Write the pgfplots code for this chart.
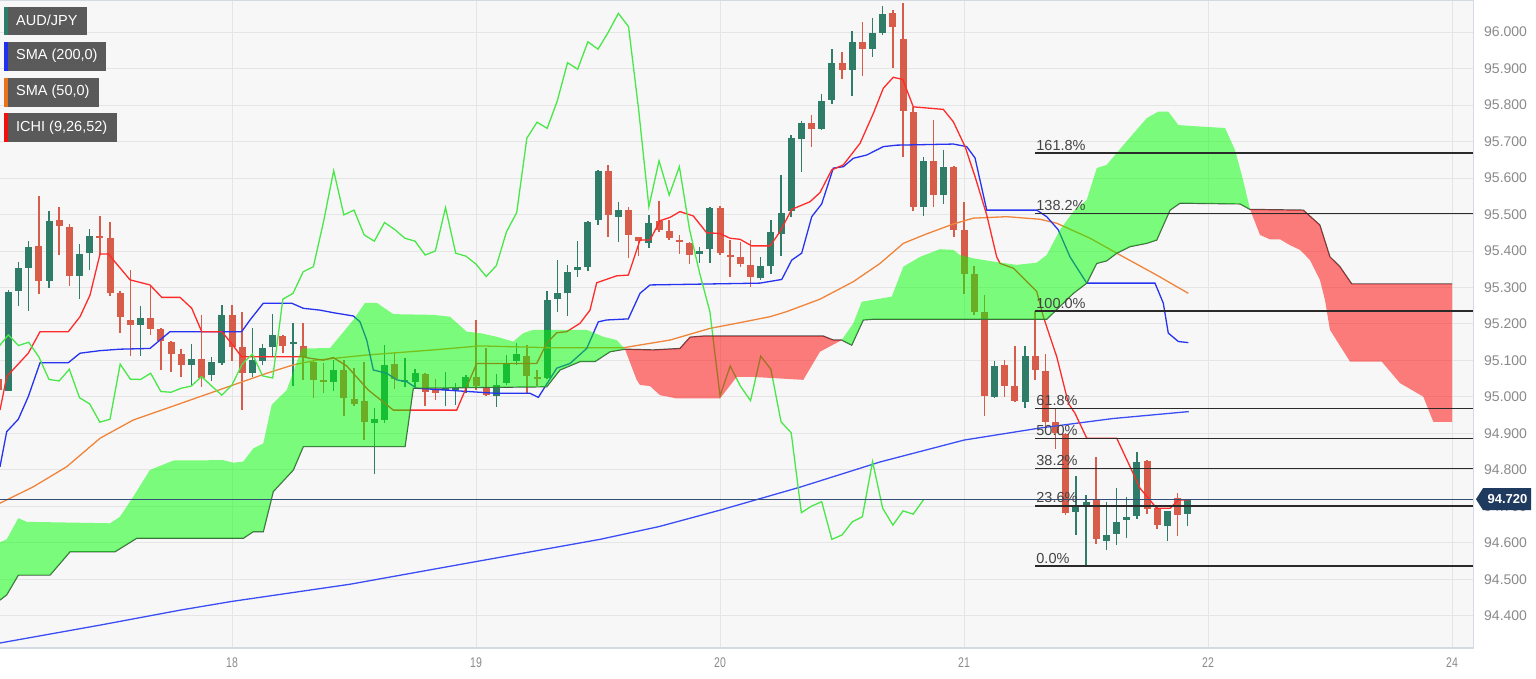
\documentclass[border=0pt]{standalone}
\usepackage{fontspec}
\setmainfont{Liberation Sans}
\usepackage{pgfplots}
\pgfplotsset{compat=1.18}
\usepackage{pgfplotstable}

\definecolor{bgc}{HTML}{F7F7F7}
\definecolor{gridc}{HTML}{E5E5E5}
\definecolor{upc}{HTML}{2F7D68}
\definecolor{dnc}{HTML}{D85C4A}
\definecolor{tenkan}{HTML}{FF2A2A}
\definecolor{kijun}{HTML}{2633F0}
\definecolor{smaA}{HTML}{3B4EF5}
\definecolor{smaB}{HTML}{F0843A}
\definecolor{chikou}{HTML}{48E848}
\definecolor{spanb}{HTML}{505050}
\definecolor{fibc}{HTML}{2A2A2A}
\definecolor{fibt}{HTML}{444444}
\definecolor{pricec}{HTML}{34507A}
\definecolor{tagc}{HTML}{1F3A5F}
\definecolor{axc}{HTML}{D3DAE4}
\definecolor{lblc}{HTML}{8A8A8A}
\definecolor{legc}{HTML}{5A5A5A}
\definecolor{legteal}{HTML}{2E7D6B}
\definecolor{legblue}{HTML}{2030F0}
\definecolor{legorange}{HTML}{E8731A}
\definecolor{legred}{HTML}{F01010}

% hour index (0 = day 18, 00:00), open, high, low, close
\pgfplotstableread{
h o hi lo c
-23 95.050 95.080 94.990 95.020
-22 95.017 95.295 95.017 95.290
-21 95.291 95.371 95.249 95.353
-20 95.354 95.427 95.236 95.412
-19 95.414 95.551 95.284 95.318
-18 95.318 95.510 95.301 95.483
-17 95.485 95.521 95.389 95.468
-16 95.465 95.476 95.304 95.332
-15 95.332 95.419 95.268 95.392
-14 95.395 95.462 95.348 95.441
-13 95.441 95.496 95.389 95.435
-12 95.437 95.480 95.279 95.287
-11 95.286 95.290 95.175 95.220
-10 95.211 95.348 95.113 95.199
-9 95.197 95.249 95.113 95.217
-8 95.218 95.304 95.170 95.187
-7 95.187 95.190 95.074 95.156
-6 95.152 95.155 95.069 95.118
-5 95.118 95.131 95.056 95.090
-4 95.090 95.145 95.033 95.104
-3 95.106 95.225 95.030 95.054
-2 95.060 95.110 95.044 95.096
-1 95.094 95.254 95.090 95.225
0 95.225 95.252 95.100 95.138
1 95.138 95.234 94.966 95.067
2 95.067 95.188 95.056 95.101
3 95.101 95.147 95.088 95.136
4 95.138 95.229 95.110 95.170
5 95.167 95.170 95.120 95.141
6 95.146 95.204 95.033 95.150
7 95.142 95.204 95.047 95.110
8 95.097 95.100 94.997 95.048
9 95.049 95.094 95.010 95.044
10 95.042 95.101 95.017 95.076
11 95.076 95.101 94.948 94.998
12 94.996 95.081 94.975 94.981
13 94.990 95.097 94.882 94.931
14 94.928 94.973 94.791 94.939
15 94.939 95.142 94.928 95.090
16 95.092 95.124 95.024 95.049
17 95.045 95.106 95.028 95.048
18 95.042 95.079 95.030 95.065
19 95.063 95.066 94.975 95.015
20 95.019 95.051 94.992 95.013
21 95.019 95.069 94.975 95.024
22 95.021 95.040 94.980 95.030
23 95.024 95.060 95.010 95.056
24 95.056 95.211 95.019 95.030
25 95.028 95.134 95.003 95.005
26 95.005 95.065 94.973 95.033
27 95.038 95.115 95.033 95.090
28 95.100 95.149 95.088 95.118
29 95.115 95.142 95.010 95.058
30 95.056 95.074 95.030 95.052
31 95.054 95.291 95.051 95.268
32 95.268 95.377 95.234 95.284
33 95.286 95.362 95.223 95.343
34 95.350 95.427 95.330 95.357
35 95.357 95.482 95.345 95.480
36 95.485 95.622 95.471 95.620
37 95.619 95.638 95.441 95.499
38 95.494 95.535 95.427 95.512
39 95.512 95.521 95.383 95.444
40 95.438 95.440 95.389 95.427
41 95.423 95.499 95.407 95.478
42 95.482 95.538 95.453 95.459
43 95.456 95.485 95.430 95.435
44 95.432 95.444 95.394 95.427
45 95.423 95.425 95.366 95.389
46 95.394 95.412 95.368 95.400
47 95.405 95.522 95.368 95.519
48 95.519 95.523 95.389 95.394
49 95.389 95.430 95.330 95.386
50 95.384 95.426 95.357 95.364
51 95.362 95.430 95.302 95.330
52 95.328 95.384 95.321 95.360
53 95.360 95.485 95.337 95.453
54 95.448 95.608 95.386 95.505
55 95.508 95.718 95.494 95.709
56 95.709 95.757 95.617 95.753
57 95.751 95.773 95.686 95.736
58 95.736 95.832 95.732 95.812
59 95.814 95.955 95.805 95.916
60 95.917 95.946 95.870 95.898
61 95.896 96.005 95.825 95.973
62 95.973 96.028 95.879 95.953
63 95.955 96.040 95.932 95.999
64 95.999 96.071 95.992 96.051
65 96.051 96.060 95.901 96.015
66 95.983 96.080 95.658 95.786
67 95.782 95.795 95.510 95.521
68 95.521 95.658 95.496 95.647
69 95.647 95.759 95.521 95.553
70 95.553 95.679 95.531 95.631
71 95.631 95.633 95.439 95.459
72 95.459 95.535 95.284 95.339
73 95.339 95.360 95.225 95.234
74 95.234 95.279 94.947 95.003
75 95.001 95.099 94.998 95.085
76 95.087 95.101 95.001 95.030
77 95.033 95.140 94.987 94.990
78 94.987 95.142 94.972 95.112
79 95.112 95.236 95.047 95.076
80 95.072 95.118 94.902 94.932
81 94.932 94.969 94.857 94.902
82 94.900 94.902 94.677 94.683
83 94.686 94.784 94.622 94.701
84 94.704 94.732 94.537 94.713
85 94.718 94.836 94.597 94.610
86 94.606 94.713 94.581 94.622
87 94.625 94.752 94.597 94.658
88 94.663 94.727 94.616 94.672
89 94.675 94.850 94.667 94.823
90 94.826 94.827 94.679 94.695
91 94.695 94.699 94.640 94.649
92 94.649 94.688 94.606 94.688
93 94.725 94.738 94.620 94.679
94 94.679 94.722 94.647 94.718
}\candles

\pgfplotsset{
  candle/.style 2 args={forget plot, draw=none, mark=none,
    error bars/.cd, y dir=both, y explicit, error mark=none,
    error bar style={line width=#2, draw=#1, solid}},
}

\begin{document}
\begin{tikzpicture}
\useasboundingbox (0pt,0pt) rectangle (1536pt,678pt);
\fill[white] (0pt,0pt) rectangle (1536pt,678pt);
\begin{axis}[
  at={(0pt,30pt)}, anchor=south west,
  scale only axis, width=1473pt, height=648pt,
  xmin=-22.82, xmax=122.06, ymin=94.3123, ymax=96.0877,
  axis background/.style={fill=bgc},
  axis line style={draw=none},
  major tick length=0pt,
  xtick={0,24,48,72,96,120},
  xticklabels={18,19,20,21,22,24},
  ytick={94.4,94.5,94.6,94.7,94.8,94.9,95.0,95.1,95.2,95.3,95.4,95.5,95.6,95.7,95.8,95.9,96.0},
  yticklabels={94.400,94.500,94.600,94.700,94.800,94.900,95.000,95.100,95.200,95.300,95.400,95.500,95.600,95.700,95.800,95.900,96.000},
  yticklabel pos=right,
  grid=major,
  major grid style={draw=gridc, line width=1pt},
  xticklabel style={font=\fontsize{14}{14}\selectfont, text=lblc, xscale=0.75, anchor=north, inner sep=0pt, yshift=-10pt},
  yticklabel style={font=\fontsize{14}{14}\selectfont, text=lblc, anchor=west, inner sep=0pt, xshift=11pt},
]
% ---- candles: wicks
\addplot[restrict expr to domain={\thisrow{c}-\thisrow{o}}{0:1}, candle={upc}{1.5pt}]
  table[x=h, y expr={(\thisrow{hi}+\thisrow{lo})/2}, y error expr={(\thisrow{hi}-\thisrow{lo})/2}] {\candles};
\addplot[restrict expr to domain={\thisrow{c}-\thisrow{o}}{-1:0}, candle={dnc}{1.5pt}]
  table[x=h, y expr={(\thisrow{hi}+\thisrow{lo})/2}, y error expr={(\thisrow{hi}-\thisrow{lo})/2}] {\candles};
% ---- candles: bodies
\addplot[restrict expr to domain={\thisrow{c}-\thisrow{o}}{0:1}, candle={upc}{7pt}]
  table[x=h, y expr={(\thisrow{o}+\thisrow{c})/2}, y error expr={max(abs(\thisrow{c}-\thisrow{o})/2,0.0018)}] {\candles};
\addplot[restrict expr to domain={\thisrow{c}-\thisrow{o}}{-1:0}, candle={dnc}{7pt}]
  table[x=h, y expr={(\thisrow{o}+\thisrow{c})/2}, y error expr={max(abs(\thisrow{c}-\thisrow{o})/2,0.0018)}] {\candles};

% ---- SMA 200
\addplot[smaA, line width=1.3pt, forget plot] coordinates {
(-22.82,94.326) (-12.98,94.375) (-5.11,94.416) (0,94.440) (11.61,94.487) (24.39,94.551) (36.2,94.610) (42,94.645) (48.0,94.690) (55.87,94.753) (63.74,94.822) (72.0,94.882) (79.47,94.915) (86.65,94.941) (94.1,94.960)};
% ---- SMA 50
\addplot[smaB, line width=1.3pt, forget plot] coordinates {
(-22.82,94.709) (-19.54,94.754) (-16.26,94.809) (-12.98,94.887) (-9.71,94.937) (-6.42,94.969) (-3.15,95.001) (0.13,95.033) (3.41,95.065) (6.03,95.088) (8.33,95.101) (13.25,95.115) (19.8,95.129) (24.39,95.140) (31.28,95.135) (38.49,95.135) (43.08,95.156) (47.01,95.188) (49.64,95.202) (52.92,95.220) (54.56,95.234) (57.83,95.268) (61.11,95.316) (63.74,95.366) (66.03,95.421) (68.33,95.447) (70.95,95.474) (72.91,95.490) (76.2,95.494) (79.47,95.487) (81.12,95.476) (84.39,95.435) (87.67,95.384) (90.95,95.334) (94.06,95.284)};
% ---- Kijun
\addplot[kijun, line width=1.3pt, forget plot] coordinates {
(-22.82,94.809) (-22.16,94.905) (-21.02,94.939) (-20.04,95.001) (-18.88,95.094) (-16.1,95.094) (-14.95,95.120) (-12.98,95.127) (-11.02,95.131) (-8.07,95.133) (-6.1,95.179) (0.95,95.179) (1.77,95.211) (3.08,95.257) (5.87,95.257) (7.01,95.243) (8.66,95.238) (9.96,95.231) (11.93,95.222) (12.59,95.206) (13.25,95.156) (13.9,95.074) (15.22,95.065) (16.2,95.047) (17.18,95.042) (18.17,95.024) (26.03,95.010) (29.31,95.010) (30.13,94.999) (31.94,95.079) (33.25,95.092) (34.89,95.133) (36.03,95.206) (36.85,95.211) (38.98,95.214) (40.13,95.284) (41.11,95.307) (51.93,95.312) (54.07,95.322) (55.05,95.375) (56.03,95.394) (57.02,95.494) (58.0,95.529) (59.14,95.627) (60.13,95.631) (61.11,95.654) (62.43,95.663) (64.06,95.686) (65.38,95.690) (70.95,95.693) (72.26,95.686) (73.08,95.655) (74.23,95.512) (79.15,95.512) (80.13,95.494) (81.27,95.458) (82.42,95.384) (84.07,95.312) (90.78,95.312) (91.6,95.257) (92.09,95.175) (93.08,95.152) (94.06,95.149)};
% ---- Tenkan
\addplot[tenkan, line width=1.3pt, forget plot] coordinates {
(-22.82,94.964) (-22.16,95.056) (-20.04,95.120) (-18.88,95.179) (-16.1,95.179) (-14.95,95.220) (-13.97,95.279) (-12.98,95.392) (-12.17,95.392) (-10.03,95.321) (-8.07,95.307) (-6.91,95.273) (-5.11,95.273) (-3.96,95.243) (-2.98,95.179) (-1.01,95.179) (-0.2,95.152) (0.95,95.110) (7.01,95.110) (7.67,95.106) (8.98,95.101) (9.96,95.108) (11.28,95.085) (13.41,95.019) (15.87,94.964) (22.1,94.964) (23.08,95.028) (24.07,95.092) (29.97,95.092) (30.95,95.147) (31.94,95.176) (32.92,95.179) (34.23,95.202) (35.21,95.238) (35.87,95.313) (37.84,95.332) (38.98,95.334) (40.13,95.430) (41.11,95.430) (42.1,95.483) (43.08,95.492) (44.06,95.508) (45.37,95.496) (46.69,95.450) (48.0,95.448) (48.98,95.435) (49.97,95.432) (51.12,95.414) (52.92,95.414) (53.9,95.453) (55.05,95.514) (56.85,95.535) (57.83,95.560) (58.98,95.622) (60.13,95.636) (61.77,95.695) (63.08,95.777) (64.06,95.846) (65.04,95.876) (65.97,95.870) (67.01,95.795) (69.96,95.788) (70.95,95.754) (72.1,95.686) (73.08,95.604) (74.23,95.499) (75.21,95.384) (75.54,95.366) (76.85,95.353) (78.0,95.321) (79.15,95.289) (79.8,95.220) (81.12,95.110) (82.26,94.983) (82.92,94.955) (84.07,94.887) (87.02,94.887) (88.33,94.809) (89.31,94.750) (90.95,94.695) (92.26,94.695) (93.08,94.718) (94.1,94.718)};
% ---- Chikou (close plotted 26 periods back)
\addplot[chikou, line width=1.3pt, forget plot] table[x expr=\thisrow{h}-26, y=c] {\candles};

% ---- Senkou span B line
\addplot[spanb, line width=1.2pt, forget plot] coordinates {
(-23,94.440) (-22.16,94.458) (-21.02,94.512) (-17.9,94.512) (-15.93,94.576) (-11.51,94.576) (-9.37,94.613) (1.11,94.613) (2.09,94.631) (3.08,94.631) (4.06,94.741) (6.03,94.800) (7.01,94.864) (17.02,94.864) (17.83,95.024) (30.95,95.028) (32.26,95.074) (34.23,95.097) (35.7,95.097) (37.18,95.124) (38.65,95.131)
(41.44,95.129) (44.06,95.133) (45.05,95.164) (46.36,95.167) (58.16,95.167) (59.15,95.156) (59.97,95.156)
(60.95,95.142) (62.09,95.211) (63.08,95.213) (80.13,95.213) (82.75,95.284) (84.07,95.312) (85.05,95.366) (86.03,95.373) (87.02,95.394) (88.33,95.412) (89.97,95.421) (90.95,95.430) (92.26,95.512) (93.24,95.531) (99.15,95.529) (100.13,95.514)
(105.37,95.512) (107.0,95.471) (107.99,95.384) (108.97,95.357) (110.13,95.310) (120,95.310)};

% ---- Kumo (cloud)
\addplot[draw=none, fill=green, fill opacity=0.5, forget plot] coordinates {
(-23,94.600) (-22.16,94.610) (-21.02,94.668) (-20.19,94.658) (-12.0,94.654) (-11.02,94.672) (-9.71,94.727) (-8.07,94.800) (-5.77,94.826) (-0.86,94.827) (0.13,94.820) (1.11,94.823) (2.09,94.859) (3.08,94.873) (3.9,94.978) (5.38,95.019) (6.86,95.133) (9.64,95.134) (11.93,95.211) (13.08,95.258) (14.23,95.258) (15.87,95.227) (19.8,95.225) (21.44,95.220) (23.08,95.179) (24.39,95.175) (26.03,95.165) (27.67,95.152) (28.65,95.175) (29.64,95.184) (34.89,95.184) (36.52,95.165) (37.84,95.156) (38.65,95.131)
(37.18,95.124) (35.7,95.097) (34.23,95.097) (32.26,95.074) (30.95,95.028) (17.83,95.024) (17.02,94.864) (7.01,94.864) (6.03,94.800) (4.06,94.741) (3.08,94.631) (2.09,94.631) (1.11,94.613) (-9.37,94.613) (-11.51,94.576) (-15.93,94.576) (-17.9,94.512) (-21.02,94.512) (-22.16,94.458) (-23,94.440)};
\addplot[draw=none, fill=red, fill opacity=0.5, forget plot] coordinates {
(38.65,95.131) (41.44,95.129) (44.06,95.133) (45.05,95.164) (46.36,95.167) (58.16,95.167) (59.15,95.156) (59.97,95.156)
(57.83,95.124) (56.19,95.047) (51.27,95.055) (49.64,95.055) (48.0,94.996) (43.74,94.996) (42.1,95.005) (41.11,95.030) (40.13,95.033) (39.8,95.047)};
\addplot[draw=none, fill=green, fill opacity=0.5, forget plot] coordinates {
(59.97,95.156) (61.11,95.202) (61.94,95.261) (64.89,95.275) (66.03,95.357) (67.67,95.384) (69.64,95.405) (70.95,95.403) (71.6,95.389) (72.91,95.380) (74.88,95.371) (77.18,95.362) (79.15,95.368) (80.13,95.389) (81.44,95.458) (82.75,95.508) (84.07,95.540) (85.05,95.627) (86.03,95.636) (87.67,95.690) (89.97,95.764) (91.11,95.782) (92.09,95.782) (93.08,95.745) (95.21,95.741) (97.67,95.737) (98.65,95.677) (99.44,95.595) (100.13,95.514)
(99.15,95.529) (93.24,95.531) (92.26,95.512) (90.95,95.430) (89.97,95.421) (88.33,95.412) (87.02,95.394) (86.03,95.373) (85.05,95.366) (84.07,95.312) (82.75,95.284) (80.13,95.213) (63.08,95.213) (62.09,95.211) (60.95,95.142)};
\addplot[draw=none, fill=red, fill opacity=0.5, forget plot] coordinates {
(100.13,95.514) (105.37,95.512) (107.0,95.471) (107.99,95.384) (108.97,95.357) (110.13,95.310) (120,95.310)
(120,94.932) (118.16,94.932) (117.17,95.001) (114.88,95.038) (113.08,95.097) (109.96,95.097) (107.99,95.184) (107.5,95.266) (107.0,95.321) (106.03,95.375) (105.05,95.403) (104.06,95.416) (103.08,95.432) (102.09,95.432) (101.11,95.444)};

% ---- current price line
\addplot[pricec, line width=1pt, forget plot] coordinates {(-23,94.720) (123,94.720)};

% ---- Fibonacci retracement levels
\addplot[fibc, line width=1.6pt, forget plot] coordinates {(79.0,95.668) (123,95.668)};
\addplot[fibc, line width=1.6pt, forget plot] coordinates {(79.0,95.503) (123,95.503)};
\addplot[fibc, line width=1.6pt, forget plot] coordinates {(79.0,95.236) (123,95.236)};
\addplot[fibc, line width=1.6pt, forget plot] coordinates {(79.0,94.969) (123,94.969)};
\addplot[fibc, line width=1.6pt, forget plot] coordinates {(79.0,94.8865) (123,94.8865)};
\addplot[fibc, line width=1.6pt, forget plot] coordinates {(79.0,94.804) (123,94.804)};
\addplot[fibc, line width=1.6pt, forget plot] coordinates {(79.0,94.702) (123,94.702)};
\addplot[fibc, line width=1.6pt, forget plot] coordinates {(79.0,94.537) (123,94.537)};

\begin{scope}[every node/.style={anchor=south west, inner sep=0pt, yshift=2.5pt, text=fibt, font=\fontsize{14.5}{14.5}\selectfont}]
\node at (axis cs:79.1,95.668) {161.8\%};
\node at (axis cs:79.1,95.503) {138.2\%};
\node at (axis cs:79.1,95.236) {100.0\%};
\node at (axis cs:79.1,94.969) {61.8\%};
\node at (axis cs:79.1,94.8865) {50.0\%};
\node at (axis cs:79.1,94.804) {38.2\%};
\node at (axis cs:79.1,94.702) {23.6\%};
\node at (axis cs:79.1,94.537) {0.0\%};
\end{scope}
\end{axis}

% ---- axis borders
\draw[axc, line width=1.5pt] (1473.5pt,30pt) -- (1473.5pt,678pt);
\draw[axc, line width=1.5pt] (0pt,30pt) -- (1473.5pt,30pt);
\draw[axc, line width=1pt] (0pt,677.5pt) -- (1473.5pt,677.5pt);

% ---- current price tag
\fill[tagc] (1476pt,178.8pt) -- (1483pt,189.8pt) -- (1531pt,189.8pt) -- (1531pt,167.8pt) -- (1483pt,167.8pt) -- cycle;
\node[text=white, font=\bfseries\fontsize{13}{13}\selectfont, inner sep=0pt] at (1507.5pt,178.8pt) {94.720};

% ---- legend boxes
\fill[legc] (4pt,643pt) rectangle (86.7pt,671.3pt);
\fill[legteal] (4pt,643pt) rectangle (8pt,671.3pt);
\node[anchor=west, text=white, inner sep=0pt, font=\fontsize{14.5}{14.5}\selectfont] at (16pt,657.2pt) {AUD/JPY};
\fill[legc] (4pt,607.3pt) rectangle (106pt,636.3pt);
\fill[legblue] (4pt,607.3pt) rectangle (8pt,636.3pt);
\node[anchor=west, text=white, inner sep=0pt, font=\fontsize{14.5}{14.5}\selectfont] at (16pt,621.8pt) {SMA (200,0)};
\fill[legc] (4pt,571.3pt) rectangle (98.7pt,600.3pt);
\fill[legorange] (4pt,571.3pt) rectangle (8pt,600.3pt);
\node[anchor=west, text=white, inner sep=0pt, font=\fontsize{14.5}{14.5}\selectfont] at (16pt,585.8pt) {SMA (50,0)};
\fill[legc] (4pt,536.3pt) rectangle (116.7pt,564.7pt);
\fill[legred] (4pt,536.3pt) rectangle (8pt,564.7pt);
\node[anchor=west, text=white, inner sep=0pt, font=\fontsize{14.5}{14.5}\selectfont] at (16pt,550.5pt) {ICHI (9,26,52)};
\end{tikzpicture}
\end{document}
